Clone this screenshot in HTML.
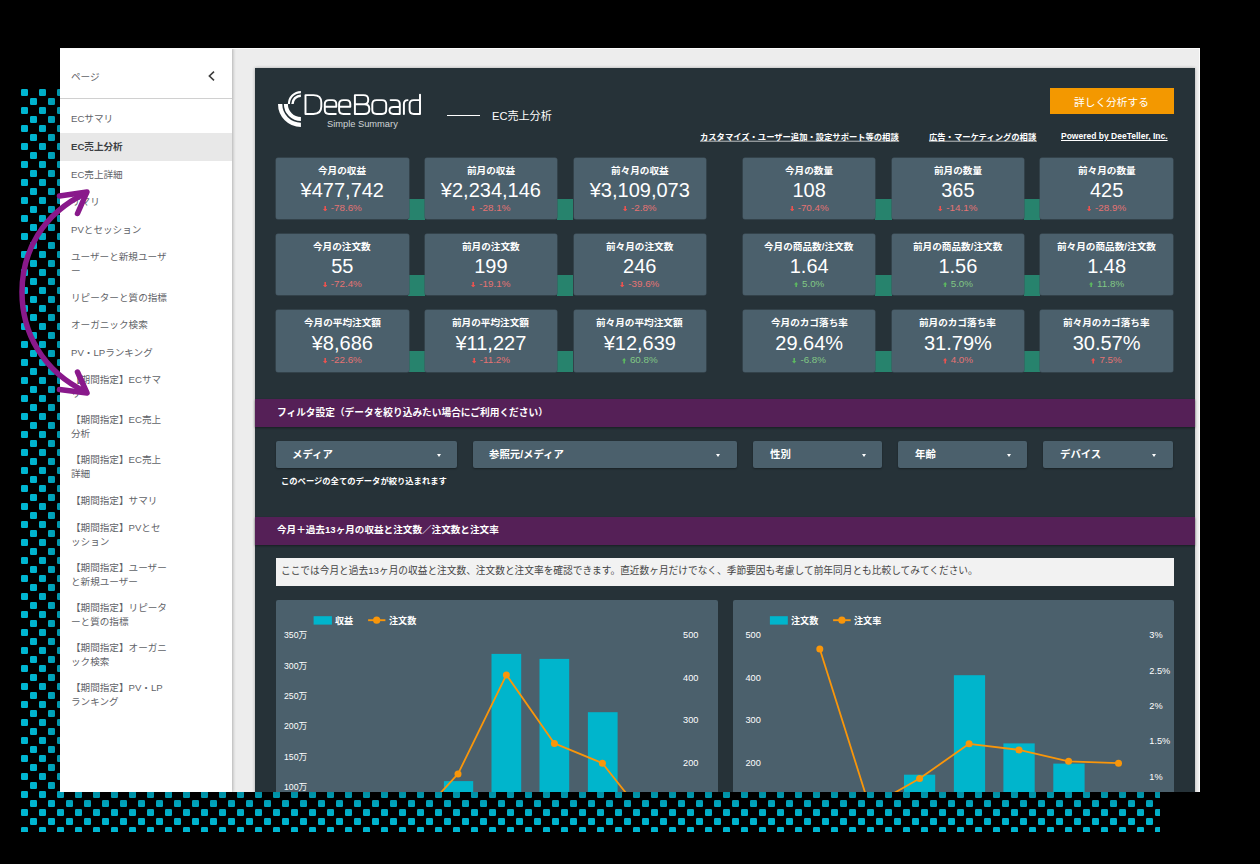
<!DOCTYPE html>
<html lang="ja">
<head>
<meta charset="utf-8">
<title>DeeBoard - EC売上分析</title>
<style>
*{box-sizing:border-box;margin:0;padding:0}
html,body{width:1260px;height:864px;overflow:hidden;background:#000}
body{position:relative;font-family:"Liberation Sans",sans-serif;color:#fff}
.abs{position:absolute}
.tx{position:absolute;overflow:visible;display:block}
.tx text{font-family:"Liberation Sans","Noto Sans CJK JP",sans-serif;white-space:pre}
#dots{position:absolute;left:21px;top:89px;width:1139px;height:743px}
#shot{position:absolute;left:60px;top:48px;width:1140px;height:744px;background:#ededed;overflow:hidden;box-shadow:0 3px 24px 4px rgba(0,0,0,.3)}
#shot:after{content:"";position:absolute;left:0;top:0;right:0;bottom:0;border-top:1px solid #fbfbfb;border-right:1px solid #fbfbfb}
#side{position:absolute;left:0;top:0;width:172px;height:744px;background:#fff;box-shadow:1px 0 3px rgba(0,0,0,.25);color:#5f6368;font-size:9.7px;line-height:14.2px;white-space:nowrap}
#side .hd{position:absolute;left:0;top:0;width:172px;height:51px;border-bottom:1px solid #d0d0d0}
#side .hd span{position:absolute;left:11.5px;top:21.5px;font-size:10.5px}
#side ul{position:absolute;left:0;top:57.2px;width:172px;list-style:none}
#side li{height:27.65px;padding-left:11.5px;display:flex;align-items:center}
#side li.d{height:40.1px}
#side li.sel{background:#e8e8e8;font-weight:bold;color:#444}
#dash{position:absolute;left:195px;top:19.5px;width:940px;height:760px;background:#263238;box-shadow:0 0 3px rgba(0,0,0,.3)}
.card{position:absolute;width:132.6px;height:61.5px;background:#4b606c;border-radius:2px;box-shadow:0 0 0 .5px #40525c;text-align:center;white-space:nowrap}
.card .t{position:absolute;left:0;right:0;top:6.5px;font-size:9.7px;font-weight:bold;line-height:13px}
.card .v{position:absolute;left:0;right:0;top:20.5px;font-size:20px;line-height:24px}
.card .c{position:absolute;left:0;right:0;top:44.4px;font-size:9.8px;line-height:12px;color:#e57373}
.card .c.g{color:#81c784}
.card .c svg{display:inline-block;margin-right:3.6px;fill:#ea5350;position:relative;top:0.3px}
.card .c.g svg{fill:#5cb860}
.gr{position:absolute;width:16.4px;height:21px;background:#27836d}
.bar{position:absolute;left:0;width:940px;height:28px;background:#552057;box-shadow:0 1px 2px rgba(0,0,0,.4);font-size:9.7px;font-weight:bold;line-height:28px;padding-left:21.7px;white-space:nowrap}
.sel{white-space:nowrap}
.dd{position:absolute;top:373.5px;height:26.6px;background:#4b606c;border-radius:2px;box-shadow:0 1px 2px rgba(0,0,0,.35);font-size:10.5px;font-weight:bold;line-height:26.6px;padding-left:16.4px;white-space:nowrap}
.dd i{position:absolute;right:16.6px;top:12.8px;width:0;height:0;border-left:2.8px solid transparent;border-right:2.8px solid transparent;border-top:3px solid #fff}
.panel{position:absolute;top:532.7px;height:240px;background:#4b606c;border-radius:2px}
.ax{position:absolute;font-size:9.2px;line-height:10px;margin-top:-.5px;white-space:nowrap}
.lg{position:absolute;font-size:9px;font-weight:bold;line-height:11px;white-space:nowrap}
a{color:#fff;text-decoration:underline}
.lnk{position:absolute;top:63.6px;font-size:8.5px;font-weight:bold;line-height:11px;white-space:nowrap;color:#fff;text-decoration:underline}
</style>
</head>
<body>
<svg id="dots" width="1139" height="743">
<defs><pattern id="dp" x="0" y="0" width="18" height="18" patternUnits="userSpaceOnUse">
<rect x="0" y="0" width="7" height="7" rx="1.2" fill="#00b6d1"/><rect x="9" y="9" width="7" height="7" rx="1.2" fill="#00b6d1"/>
</pattern></defs>
<rect x="0" y="0" width="1139" height="743" fill="url(#dp)"/>
</svg>

<div id="shot">
<div id="dash">
<svg class="abs" style="left:15px;top:16.5px" width="160" height="50" viewBox="270 84 160 50">
<title>DeeBoard</title>
<g fill="none" stroke="#fff">
<path d="M288.9 104.1 A12 12 0 0 1 300.9 92.1" stroke-width="2.1"/>
<path d="M292.5 104.1 A8.4 8.4 0 0 1 300.9 95.7" stroke-width="2.4"/>
<path d="M280.15 104.1 A20.75 20.75 0 0 0 300.9 124.85" stroke-width="4.3"/>
<path d="M285.9 104.1 A15 15 0 0 0 300.9 119.1" stroke-width="4"/>
</g>
<g fill="none" stroke="#fff" stroke-width="1.95" stroke-linejoin="round" stroke-linecap="round">
<path d="M305.5 95.1 V113.9 H313.5 Q321.3 113.9 321.3 106.5 V102.5 Q321.3 95.1 313.5 95.1 Z"/>
<path d="M325.2 106.7 H336.3 V104 Q336.3 100.1 332.3 100.1 H329 Q324.8 100.1 324.8 104 V110 Q324.8 113.9 329 113.9 H335.8"/>
<path d="M339.5 106.7 H350.3 V104 Q350.3 100.1 346.3 100.1 H343.3 Q339.1 100.1 339.1 104 V110 Q339.1 113.9 343.3 113.9 H349.8"/>
<path d="M354.9 95.1 V113.9 H364.3 Q369.3 113.9 369.3 109.4 V108.6 Q369.3 104.2 364.3 104.2 H354.9 M364 104.2 Q368.2 104.2 368.2 100 V99.3 Q368.2 95.1 363.5 95.1 H354.9"/>
<path d="M376.5 100.1 H382 Q386.2 100.1 386.2 104.3 V109.7 Q386.2 113.9 382 113.9 H376.5 Q372.3 113.9 372.3 109.7 V104.3 Q372.3 100.1 376.5 100.1 Z"/>
<path d="M390.6 100.1 H395.8 Q399.8 100.1 399.8 104 V113.9 H393.3 Q389.5 113.9 389.5 110.6 V110.2 Q389.5 106.9 393.3 106.9 H399.8"/>
<path d="M403.9 113.9 V104 Q403.9 100.1 407.6 100.1"/>
<path d="M420 94.6 V113.9 H413.8 Q409.6 113.9 409.6 109.7 V104.3 Q409.6 100.1 413.8 100.1 H420"/>
</g>
</svg>
<div class="abs" style="left:72px;top:51px;font-size:9.3px;line-height:11px;color:#cfd4d6;white-space:nowrap">Simple Summary</div>
<div class="abs" style="left:192px;top:47.5px;width:33px;height:1px;background:#fff"></div>
<svg class="tx" style="left:237.00px;top:40.03px" width="58.73" height="15.54"><text x="0" y="11.99" font-size="11.1" fill="#fff">EC売上分析</text></svg>
<div class="abs" style="left:794.8px;top:20.6px;width:124px;height:26.3px;background:#f39800"></div>
<svg class="tx" style="left:819.35px;top:26.21px" width="75.40" height="14.98"><text x="0" y="11.56" font-size="10.7" fill="#fff">詳しく分析する</text></svg>
<svg class="tx" style="left:444.80px;top:63.29px" width="199.70" height="11.62"><text x="0" y="8.96" font-size="8.3" font-weight="bold" fill="#fff">カスタマイズ・ユーザー追加・設定サポート等の相談</text><rect x="0" y="9.79" width="199.20" height="0.70" fill="#fff"/></svg>
<svg class="tx" style="left:673.50px;top:63.29px" width="108.40" height="11.62"><text x="0" y="8.96" font-size="8.3" font-weight="bold" fill="#fff">広告・マーケティングの相談</text><rect x="0" y="9.79" width="107.90" height="0.70" fill="#fff"/></svg>
<span class="lnk" style="right:27.4px">Powered by DeeTeller, Inc.</span>
<div class="gr" style="left:153.4px;top:131.5px"></div>
<div class="card" style="left:21px;top:90.1px"><div class="v">¥477,742</div><div class="c"><svg width="4.4" height="5.6" viewBox="0 0 44 56"><path d="M14 0H30V30H44L22 56L0 30H14Z"/></svg>-78.6%</div></div>
<svg class="tx" style="left:63.20px;top:96.35px" width="48.70" height="13.50"><text x="0" y="10.41" font-size="9.64" font-weight="bold" fill="#fff">今月の収益</text></svg>
<div class="gr" style="left:302px;top:131.5px"></div>
<div class="card" style="left:169.6px;top:90.1px"><div class="v">¥2,234,146</div><div class="c"><svg width="4.4" height="5.6" viewBox="0 0 44 56"><path d="M14 0H30V30H44L22 56L0 30H14Z"/></svg>-28.1%</div></div>
<svg class="tx" style="left:211.80px;top:96.35px" width="48.70" height="13.50"><text x="0" y="10.41" font-size="9.64" font-weight="bold" fill="#fff">前月の収益</text></svg>
<div class="card" style="left:318.5px;top:90.1px"><div class="v">¥3,109,073</div><div class="c"><svg width="4.4" height="5.6" viewBox="0 0 44 56"><path d="M14 0H30V30H44L22 56L0 30H14Z"/></svg>-2.8%</div></div>
<svg class="tx" style="left:355.88px;top:96.35px" width="58.34" height="13.50"><text x="0" y="10.41" font-size="9.64" font-weight="bold" fill="#fff">前々月の収益</text></svg>
<div class="gr" style="left:620.3px;top:131.5px"></div>
<div class="card" style="left:487.9px;top:90.1px"><div class="v">108</div><div class="c"><svg width="4.4" height="5.6" viewBox="0 0 44 56"><path d="M14 0H30V30H44L22 56L0 30H14Z"/></svg>-70.4%</div></div>
<svg class="tx" style="left:530.10px;top:96.35px" width="48.70" height="13.50"><text x="0" y="10.41" font-size="9.64" font-weight="bold" fill="#fff">今月の数量</text></svg>
<div class="gr" style="left:769px;top:131.5px"></div>
<div class="card" style="left:636.6px;top:90.1px"><div class="v">365</div><div class="c"><svg width="4.4" height="5.6" viewBox="0 0 44 56"><path d="M14 0H30V30H44L22 56L0 30H14Z"/></svg>-14.1%</div></div>
<svg class="tx" style="left:678.80px;top:96.35px" width="48.70" height="13.50"><text x="0" y="10.41" font-size="9.64" font-weight="bold" fill="#fff">前月の数量</text></svg>
<div class="card" style="left:785.3px;top:90.1px"><div class="v">425</div><div class="c"><svg width="4.4" height="5.6" viewBox="0 0 44 56"><path d="M14 0H30V30H44L22 56L0 30H14Z"/></svg>-28.9%</div></div>
<svg class="tx" style="left:822.68px;top:96.35px" width="58.34" height="13.50"><text x="0" y="10.41" font-size="9.64" font-weight="bold" fill="#fff">前々月の数量</text></svg>
<div class="gr" style="left:153.4px;top:207.7px"></div>
<div class="card" style="left:21px;top:166.3px"><div class="v">55</div><div class="c"><svg width="4.4" height="5.6" viewBox="0 0 44 56"><path d="M14 0H30V30H44L22 56L0 30H14Z"/></svg>-72.4%</div></div>
<svg class="tx" style="left:58.38px;top:172.55px" width="58.34" height="13.50"><text x="0" y="10.41" font-size="9.64" font-weight="bold" fill="#fff">今月の注文数</text></svg>
<div class="gr" style="left:302px;top:207.7px"></div>
<div class="card" style="left:169.6px;top:166.3px"><div class="v">199</div><div class="c"><svg width="4.4" height="5.6" viewBox="0 0 44 56"><path d="M14 0H30V30H44L22 56L0 30H14Z"/></svg>-19.1%</div></div>
<svg class="tx" style="left:206.98px;top:172.55px" width="58.34" height="13.50"><text x="0" y="10.41" font-size="9.64" font-weight="bold" fill="#fff">前月の注文数</text></svg>
<div class="card" style="left:318.5px;top:166.3px"><div class="v">246</div><div class="c"><svg width="4.4" height="5.6" viewBox="0 0 44 56"><path d="M14 0H30V30H44L22 56L0 30H14Z"/></svg>-39.6%</div></div>
<svg class="tx" style="left:351.06px;top:172.55px" width="67.98" height="13.50"><text x="0" y="10.41" font-size="9.64" font-weight="bold" fill="#fff">前々月の注文数</text></svg>
<div class="gr" style="left:620.3px;top:207.7px"></div>
<div class="card" style="left:487.9px;top:166.3px"><div class="v">1.64</div><div class="c g"><svg width="4.4" height="5.6" viewBox="0 0 44 56"><path d="M14 56H30V26H44L22 0L0 26H14Z"/></svg>5.0%</div></div>
<svg class="tx" style="left:508.95px;top:172.55px" width="90.99" height="13.50"><text x="0" y="10.41" font-size="9.64" font-weight="bold" fill="#fff">今月の商品数/注文数</text></svg>
<div class="gr" style="left:769px;top:207.7px"></div>
<div class="card" style="left:636.6px;top:166.3px"><div class="v">1.56</div><div class="c g"><svg width="4.4" height="5.6" viewBox="0 0 44 56"><path d="M14 56H30V26H44L22 0L0 26H14Z"/></svg>5.0%</div></div>
<svg class="tx" style="left:657.65px;top:172.55px" width="90.99" height="13.50"><text x="0" y="10.41" font-size="9.64" font-weight="bold" fill="#fff">前月の商品数/注文数</text></svg>
<div class="card" style="left:785.3px;top:166.3px"><div class="v">1.48</div><div class="c g"><svg width="4.4" height="5.6" viewBox="0 0 44 56"><path d="M14 56H30V26H44L22 0L0 26H14Z"/></svg>11.8%</div></div>
<svg class="tx" style="left:801.53px;top:172.55px" width="100.63" height="13.50"><text x="0" y="10.41" font-size="9.64" font-weight="bold" fill="#fff">前々月の商品数/注文数</text></svg>
<div class="gr" style="left:153.4px;top:283.9px"></div>
<div class="card" style="left:21px;top:242.5px"><div class="v">¥8,686</div><div class="c"><svg width="4.4" height="5.6" viewBox="0 0 44 56"><path d="M14 0H30V30H44L22 56L0 30H14Z"/></svg>-22.6%</div></div>
<svg class="tx" style="left:48.74px;top:248.75px" width="77.62" height="13.50"><text x="0" y="10.41" font-size="9.64" font-weight="bold" fill="#fff">今月の平均注文額</text></svg>
<div class="gr" style="left:302px;top:283.9px"></div>
<div class="card" style="left:169.6px;top:242.5px"><div class="v">¥11,227</div><div class="c"><svg width="4.4" height="5.6" viewBox="0 0 44 56"><path d="M14 0H30V30H44L22 56L0 30H14Z"/></svg>-11.2%</div></div>
<svg class="tx" style="left:197.34px;top:248.75px" width="77.62" height="13.50"><text x="0" y="10.41" font-size="9.64" font-weight="bold" fill="#fff">前月の平均注文額</text></svg>
<div class="card" style="left:318.5px;top:242.5px"><div class="v">¥12,639</div><div class="c g"><svg width="4.4" height="5.6" viewBox="0 0 44 56"><path d="M14 56H30V26H44L22 0L0 26H14Z"/></svg>60.8%</div></div>
<svg class="tx" style="left:341.42px;top:248.75px" width="87.26" height="13.50"><text x="0" y="10.41" font-size="9.64" font-weight="bold" fill="#fff">前々月の平均注文額</text></svg>
<div class="gr" style="left:620.3px;top:283.9px"></div>
<div class="card" style="left:487.9px;top:242.5px"><div class="v">29.64%</div><div class="c g"><svg width="4.4" height="5.6" viewBox="0 0 44 56"><path d="M14 0H30V30H44L22 56L0 30H14Z"/></svg>-6.8%</div></div>
<svg class="tx" style="left:515.64px;top:248.75px" width="77.62" height="13.50"><text x="0" y="10.41" font-size="9.64" font-weight="bold" fill="#fff">今月のカゴ落ち率</text></svg>
<div class="gr" style="left:769px;top:283.9px"></div>
<div class="card" style="left:636.6px;top:242.5px"><div class="v">31.79%</div><div class="c"><svg width="4.4" height="5.6" viewBox="0 0 44 56"><path d="M14 56H30V26H44L22 0L0 26H14Z"/></svg>4.0%</div></div>
<svg class="tx" style="left:664.34px;top:248.75px" width="77.62" height="13.50"><text x="0" y="10.41" font-size="9.64" font-weight="bold" fill="#fff">前月のカゴ落ち率</text></svg>
<div class="card" style="left:785.3px;top:242.5px"><div class="v">30.57%</div><div class="c"><svg width="4.4" height="5.6" viewBox="0 0 44 56"><path d="M14 56H30V26H44L22 0L0 26H14Z"/></svg>7.5%</div></div>
<svg class="tx" style="left:808.22px;top:248.75px" width="87.26" height="13.50"><text x="0" y="10.41" font-size="9.64" font-weight="bold" fill="#fff">前々月のカゴ落ち率</text></svg>
<div class="bar" style="top:331.5px"></div>
<svg class="tx" style="left:22.20px;top:338.31px" width="272.10" height="13.58"><text x="0" y="10.48" font-size="9.7" font-weight="bold" fill="#fff">フィルタ設定（データを絞り込みたい場合にご利用ください）</text></svg>
<div class="bar" style="top:449.1px"></div>
<svg class="tx" style="left:22.20px;top:455.28px" width="223.03" height="13.44"><text x="0" y="10.37" font-size="9.6" font-weight="bold" fill="#fff">今月＋過去13ヶ月の収益と注文数／注文数と注文率</text></svg>
<div class="dd" style="left:20.9px;width:181.3px"><i></i></div>
<svg class="tx" style="left:37.30px;top:379.82px" width="42.10" height="14.56"><text x="0" y="11.23" font-size="10.4" font-weight="bold" fill="#fff">メディア</text></svg>
<div class="dd" style="left:217.9px;width:263.9px"><i></i></div>
<svg class="tx" style="left:234.30px;top:379.82px" width="77.32" height="14.56"><text x="0" y="11.23" font-size="10.4" font-weight="bold" fill="#fff">参照元/メディア</text></svg>
<div class="dd" style="left:498.1px;width:129.2px"><i></i></div>
<svg class="tx" style="left:514.50px;top:379.82px" width="21.30" height="14.56"><text x="0" y="11.23" font-size="10.4" font-weight="bold" fill="#fff">性別</text></svg>
<div class="dd" style="left:643.3px;width:129.1px"><i></i></div>
<svg class="tx" style="left:659.70px;top:379.82px" width="21.30" height="14.56"><text x="0" y="11.23" font-size="10.4" font-weight="bold" fill="#fff">年齢</text></svg>
<div class="dd" style="left:788.4px;width:129.2px"><i></i></div>
<svg class="tx" style="left:804.80px;top:379.82px" width="42.10" height="14.56"><text x="0" y="11.23" font-size="10.4" font-weight="bold" fill="#fff">デバイス</text></svg>
<svg class="tx" style="left:26.20px;top:407.69px" width="166.50" height="11.62"><text x="0" y="8.96" font-size="8.3" font-weight="bold" fill="#fff">このページの全てのデータが絞り込まれます</text></svg>
<div class="abs" style="left:20.9px;top:490.4px;width:898.2px;height:28.2px;background:#f2f2f2"></div>
<svg class="tx" style="left:26.20px;top:496.91px" width="699.97" height="13.58"><text x="0" y="10.48" font-size="9.7" fill="#444">ここでは今月と過去13ヶ月の収益と注文数、注文数と注文率を確認できます。直近数ヶ月だけでなく、季節要因も考慮して前年同月とも比較してみてください。</text></svg>
<div class="panel" style="left:20.9px;width:441.9px"></div>
<div class="panel" style="left:477.6px;width:441.4px"></div>
<svg class="abs" style="left:0;top:532.5px" width="940" height="200" viewBox="255 600 940 200">
<rect x="443.9" y="781.1" width="29.3" height="18.9" fill="#00b5cc"/>
<rect x="491.5" y="653.9" width="29.7" height="146.1" fill="#00b5cc"/>
<rect x="539.5" y="658.9" width="29.7" height="141.1" fill="#00b5cc"/>
<rect x="587.9" y="712.2" width="29.7" height="87.8" fill="#00b5cc"/>
<rect x="904" y="774.7" width="31.2" height="25.3" fill="#00b5cc"/>
<rect x="953.9" y="675.2" width="31.2" height="124.8" fill="#00b5cc"/>
<rect x="1003.4" y="743.4" width="31.3" height="56.6" fill="#00b5cc"/>
<rect x="1053.3" y="763.6" width="31.3" height="36.4" fill="#00b5cc"/>
<polyline fill="none" stroke="#f9960a" stroke-width="1.8" stroke-linejoin="round" points="409.9,826.3 458,773.9 506.4,674.9 554.4,743.4 602.4,763.2 650.5,824"/>
<circle cx="409.9" cy="826.3" r="3.5" fill="#f9960a"/>
<circle cx="458" cy="773.9" r="3.5" fill="#f9960a"/>
<circle cx="506.4" cy="674.9" r="3.5" fill="#f9960a"/>
<circle cx="554.4" cy="743.4" r="3.5" fill="#f9960a"/>
<circle cx="602.4" cy="763.2" r="3.5" fill="#f9960a"/>
<circle cx="650.5" cy="824" r="3.5" fill="#f9960a"/>
<polyline fill="none" stroke="#f9960a" stroke-width="1.8" stroke-linejoin="round" points="819.8,649 869.6,807 919.6,778.5 969.1,743.8 1019,749.9 1068.6,761.3 1118.5,763.2"/>
<circle cx="819.8" cy="649" r="3.5" fill="#f9960a"/>
<circle cx="869.6" cy="807" r="3.5" fill="#f9960a"/>
<circle cx="919.6" cy="778.5" r="3.5" fill="#f9960a"/>
<circle cx="969.1" cy="743.8" r="3.5" fill="#f9960a"/>
<circle cx="1019" cy="749.9" r="3.5" fill="#f9960a"/>
<circle cx="1068.6" cy="761.3" r="3.5" fill="#f9960a"/>
<circle cx="1118.5" cy="763.2" r="3.5" fill="#f9960a"/>
<rect x="313.6" y="616.2" width="18.3" height="8.4" fill="#00b5cc"/>
<path d="M368.1 620.2H385.4" stroke="#f9960a" stroke-width="1.9"/><circle cx="376.7" cy="620.2" r="3.6" fill="#f9960a"/>
<rect x="769.9" y="616.2" width="17.9" height="8.4" fill="#00b5cc"/>
<path d="M833.1 620.2H850.7" stroke="#f9960a" stroke-width="1.9"/><circle cx="841.9" cy="620.2" r="3.6" fill="#f9960a"/>
</svg>
<svg class="tx" style="left:80.30px;top:546.73px" width="18.70" height="12.74"><text x="0" y="9.83" font-size="9.1" font-weight="bold" fill="#fff">収益</text></svg>
<svg class="tx" style="left:134.00px;top:546.73px" width="27.80" height="12.74"><text x="0" y="9.83" font-size="9.1" font-weight="bold" fill="#fff">注文数</text></svg>
<svg class="tx" style="left:535.90px;top:546.73px" width="27.80" height="12.74"><text x="0" y="9.83" font-size="9.1" font-weight="bold" fill="#fff">注文数</text></svg>
<svg class="tx" style="left:599.10px;top:546.73px" width="27.80" height="12.74"><text x="0" y="9.83" font-size="9.1" font-weight="bold" fill="#fff">注文率</text></svg>
<svg class="tx" style="left:28.72px;top:561.61px" width="24.08" height="12.18"><text x="0" y="9.40" font-size="8.7" fill="#fff">350万</text></svg>
<svg class="tx" style="left:28.72px;top:592.01px" width="24.08" height="12.18"><text x="0" y="9.40" font-size="8.7" fill="#fff">300万</text></svg>
<svg class="tx" style="left:28.72px;top:622.41px" width="24.08" height="12.18"><text x="0" y="9.40" font-size="8.7" fill="#fff">250万</text></svg>
<svg class="tx" style="left:28.72px;top:652.81px" width="24.08" height="12.18"><text x="0" y="9.40" font-size="8.7" fill="#fff">200万</text></svg>
<svg class="tx" style="left:28.72px;top:683.21px" width="24.08" height="12.18"><text x="0" y="9.40" font-size="8.7" fill="#fff">150万</text></svg>
<svg class="tx" style="left:28.72px;top:713.61px" width="24.08" height="12.18"><text x="0" y="9.40" font-size="8.7" fill="#fff">100万</text></svg>
<div class="ax" style="left:428.1px;top:563.1px">500</div>
<div class="ax" style="left:490.5px;top:563.1px">500</div>
<div class="ax" style="left:428.1px;top:605.65px">400</div>
<div class="ax" style="left:490.5px;top:605.65px">400</div>
<div class="ax" style="left:428.1px;top:648.2px">300</div>
<div class="ax" style="left:490.5px;top:648.2px">300</div>
<div class="ax" style="left:428.1px;top:690.75px">200</div>
<div class="ax" style="left:490.5px;top:690.75px">200</div>
<div class="ax" style="left:894.3px;top:563.1px">3%</div>
<div class="ax" style="left:894.3px;top:598.5px">2.5%</div>
<div class="ax" style="left:894.3px;top:633.9px">2%</div>
<div class="ax" style="left:894.3px;top:669.3px">1.5%</div>
<div class="ax" style="left:894.3px;top:704.7px">1%</div>
</div>
<div id="side">
<div class="hd"><svg class="tx" style="left:10.80px;top:21.98px" width="29.30" height="13.44"><text x="0" y="10.37" font-size="9.6" fill="#5f6368">ページ</text></svg>
<svg class="abs" style="left:147px;top:22px" width="10" height="12" viewBox="0 0 10 12"><path d="M7 1.7 L2.4 6 L7 10.3" fill="none" stroke="#3c3c3c" stroke-width="1.6"/></svg>
</div>
<svg class="tx" style="left:10.60px;top:64.41px" width="41.08" height="13.44"><text x="0" y="10.37" font-size="9.6" fill="#5f6368">ECサマリ</text></svg>
<div class="abs" style="left:0;top:84.95px;width:172px;height:27.65px;background:#e8e8e8"></div>
<svg class="tx" style="left:10.60px;top:92.05px" width="51.10" height="13.44"><text x="0" y="10.37" font-size="9.6" font-weight="bold" fill="#3c4043">EC売上分析</text></svg>
<svg class="tx" style="left:10.60px;top:119.70px" width="50.68" height="13.44"><text x="0" y="10.37" font-size="9.6" fill="#5f6368">EC売上詳細</text></svg>
<svg class="tx" style="left:10.60px;top:147.35px" width="29.30" height="13.44"><text x="0" y="10.37" font-size="9.6" fill="#5f6368">サマリ</text></svg>
<svg class="tx" style="left:10.60px;top:175.00px" width="69.70" height="13.44"><text x="0" y="10.37" font-size="9.6" fill="#5f6368">PVとセッション</text></svg>
<svg class="tx" style="left:10.60px;top:201.78px" width="96.50" height="13.44"><text x="0" y="10.37" font-size="9.6" fill="#5f6368">ユーザーと新規ユーザ</text></svg>
<svg class="tx" style="left:10.60px;top:215.98px" width="10.10" height="13.44"><text x="0" y="10.37" font-size="9.6" fill="#5f6368">ー</text></svg>
<svg class="tx" style="left:10.60px;top:242.76px" width="96.50" height="13.44"><text x="0" y="10.37" font-size="9.6" fill="#5f6368">リピーターと質の指標</text></svg>
<svg class="tx" style="left:10.60px;top:270.40px" width="77.30" height="13.44"><text x="0" y="10.37" font-size="9.6" fill="#5f6368">オーガニック検索</text></svg>
<svg class="tx" style="left:10.60px;top:298.05px" width="80.99" height="13.44"><text x="0" y="10.37" font-size="9.6" fill="#5f6368">PV・LPランキング</text></svg>
<svg class="tx" style="left:10.60px;top:324.83px" width="89.08" height="13.44"><text x="0" y="10.37" font-size="9.6" fill="#5f6368">【期間指定】ECサマ</text></svg>
<svg class="tx" style="left:10.60px;top:339.03px" width="10.10" height="13.44"><text x="0" y="10.37" font-size="9.6" fill="#5f6368">リ</text></svg>
<svg class="tx" style="left:10.60px;top:364.93px" width="89.08" height="13.44"><text x="0" y="10.37" font-size="9.6" fill="#5f6368">【期間指定】EC売上</text></svg>
<svg class="tx" style="left:10.60px;top:379.13px" width="19.70" height="13.44"><text x="0" y="10.37" font-size="9.6" fill="#5f6368">分析</text></svg>
<svg class="tx" style="left:10.60px;top:405.03px" width="89.08" height="13.44"><text x="0" y="10.37" font-size="9.6" fill="#5f6368">【期間指定】EC売上</text></svg>
<svg class="tx" style="left:10.60px;top:419.23px" width="19.70" height="13.44"><text x="0" y="10.37" font-size="9.6" fill="#5f6368">詳細</text></svg>
<svg class="tx" style="left:10.60px;top:446.00px" width="86.90" height="13.44"><text x="0" y="10.37" font-size="9.6" fill="#5f6368">【期間指定】サマリ</text></svg>
<svg class="tx" style="left:10.60px;top:472.78px" width="88.90" height="13.44"><text x="0" y="10.37" font-size="9.6" fill="#5f6368">【期間指定】PVとセ</text></svg>
<svg class="tx" style="left:10.60px;top:486.98px" width="38.90" height="13.44"><text x="0" y="10.37" font-size="9.6" fill="#5f6368">ッション</text></svg>
<svg class="tx" style="left:10.60px;top:512.88px" width="96.50" height="13.44"><text x="0" y="10.37" font-size="9.6" fill="#5f6368">【期間指定】ユーザー</text></svg>
<svg class="tx" style="left:10.60px;top:527.08px" width="67.70" height="13.44"><text x="0" y="10.37" font-size="9.6" fill="#5f6368">と新規ユーザー</text></svg>
<svg class="tx" style="left:10.60px;top:552.98px" width="96.50" height="13.44"><text x="0" y="10.37" font-size="9.6" fill="#5f6368">【期間指定】リピータ</text></svg>
<svg class="tx" style="left:10.60px;top:567.18px" width="58.10" height="13.44"><text x="0" y="10.37" font-size="9.6" fill="#5f6368">ーと質の指標</text></svg>
<svg class="tx" style="left:10.60px;top:593.08px" width="96.50" height="13.44"><text x="0" y="10.37" font-size="9.6" fill="#5f6368">【期間指定】オーガニ</text></svg>
<svg class="tx" style="left:10.60px;top:607.28px" width="38.90" height="13.44"><text x="0" y="10.37" font-size="9.6" fill="#5f6368">ック検索</text></svg>
<svg class="tx" style="left:10.60px;top:633.18px" width="90.59" height="13.44"><text x="0" y="10.37" font-size="9.6" fill="#5f6368">【期間指定】PV・LP</text></svg>
<svg class="tx" style="left:10.60px;top:647.38px" width="48.50" height="13.44"><text x="0" y="10.37" font-size="9.6" fill="#5f6368">ランキング</text></svg>
</div>
</div>

<svg class="abs" style="left:0;top:170px" width="130" height="250" viewBox="0 170 130 250">
<g fill="none" stroke="#89198b" stroke-width="5.5" stroke-linecap="round" stroke-linejoin="round">
<path d="M86 193 C42 214 22 252 22 292 C22 332 42 371 86 392"/>
<path d="M59.5 196 L87 192 L77.5 213.5"/>
<path d="M77.5 372 L87 393 L59.5 389.5"/>
</g>
</svg>
</body>
</html>
